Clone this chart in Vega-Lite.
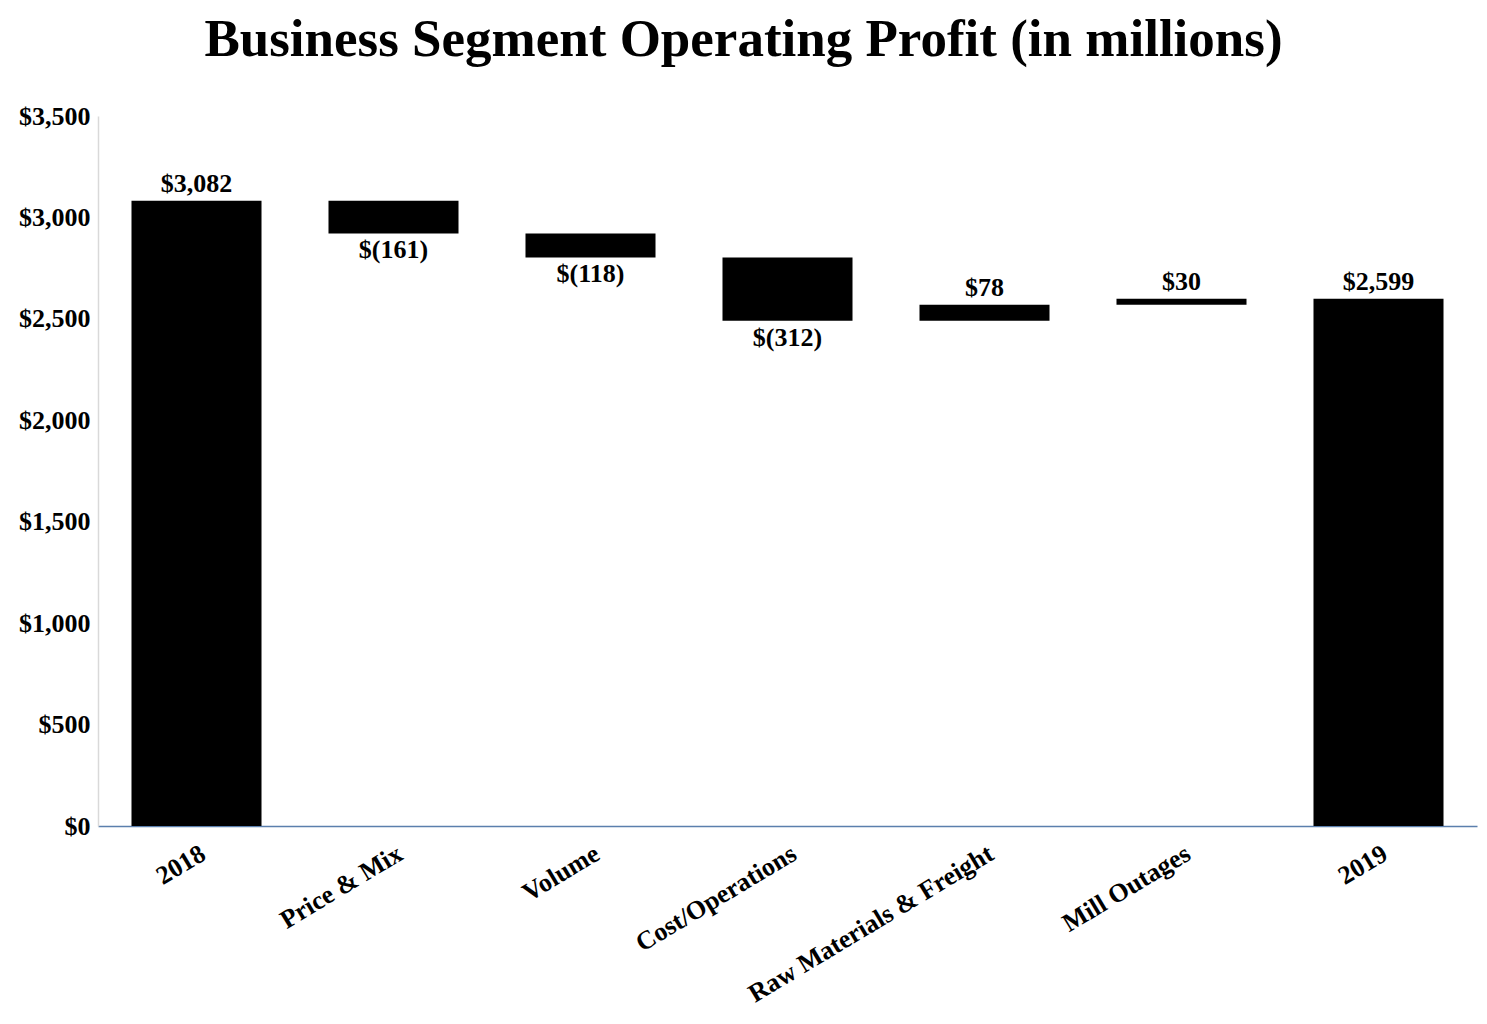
{
  "$schema": "https://vega.github.io/schema/vega-lite/v6.json",
  "width": 1379,
  "height": 710,
  "autosize": "none",
  "padding": {"left": 98, "top": 116, "right": 10, "bottom": 198},
  "background": "white",
  "config": {
    "view": {"stroke": null},
    "font": "Liberation Serif"
  },
  "title": {
    "text": "Business Segment Operating Profit (in millions)",
    "font": "Liberation Serif",
    "fontSize": 53,
    "fontWeight": "bold",
    "color": "black",
    "anchor": "middle",
    "dx": -44,
    "offset": 36
  },
  "data": {
    "values": [
      {"category": "2018", "start": 0, "end": 3082, "label": "$3,082", "kind": "up"},
      {"category": "Price & Mix", "start": 3082, "end": 2921, "label": "$(161)", "kind": "down"},
      {"category": "Volume", "start": 2921, "end": 2803, "label": "$(118)", "kind": "down"},
      {"category": "Cost/Operations", "start": 2803, "end": 2491, "label": "$(312)", "kind": "down"},
      {"category": "Raw Materials & Freight", "start": 2491, "end": 2569, "label": "$78", "kind": "up"},
      {"category": "Mill Outages", "start": 2569, "end": 2599, "label": "$30", "kind": "up"},
      {"category": "2019", "start": 0, "end": 2599, "label": "$2,599", "kind": "up"}
    ]
  },
  "encoding": {
    "x": {
      "field": "category",
      "type": "nominal",
      "sort": null,
      "scale": {"paddingInner": 0.34, "paddingOuter": 0.17},
      "axis": {
        "title": null,
        "labelAngle": -31,
        "labelAlign": "right",
        "labelBaseline": "top",
        "labelFont": "Liberation Serif",
        "labelFontSize": 26,
        "labelFontWeight": "bold",
        "labelColor": "black",
        "labelPadding": 14,
        "ticks": false,
        "domainColor": "#5B7FAD",
        "domainWidth": 1.5,
        "labelLimit": 0
      }
    }
  },
  "layer": [
    {
      "mark": {"type": "bar", "color": "black"},
      "encoding": {
        "y": {
          "field": "start",
          "type": "quantitative",
          "scale": {"domain": [0, 3500], "nice": false},
          "axis": {
            "title": null,
            "values": [0, 500, 1000, 1500, 2000, 2500, 3000, 3500],
            "format": "$,.0f",
            "labelFont": "Liberation Serif",
            "labelFontSize": 26,
            "labelFontWeight": "bold",
            "labelColor": "black",
            "labelPadding": 8,
            "ticks": false,
            "grid": false,
            "domainColor": "#D9D9D9",
            "domainWidth": 1.5
          }
        },
        "y2": {"field": "end"}
      }
    },
    {
      "transform": [{"filter": "datum.kind == 'up'"}],
      "mark": {"type": "text", "baseline": "alphabetic", "dy": -9, "font": "Liberation Serif", "fontSize": 26, "fontWeight": "bold", "color": "black"},
      "encoding": {
        "y": {"field": "end", "type": "quantitative"},
        "text": {"field": "label"}
      }
    },
    {
      "transform": [{"filter": "datum.kind == 'down'"}],
      "mark": {"type": "text", "baseline": "top", "dy": 4, "font": "Liberation Serif", "fontSize": 26, "fontWeight": "bold", "color": "black"},
      "encoding": {
        "y": {"field": "end", "type": "quantitative"},
        "text": {"field": "label"}
      }
    }
  ]
}
